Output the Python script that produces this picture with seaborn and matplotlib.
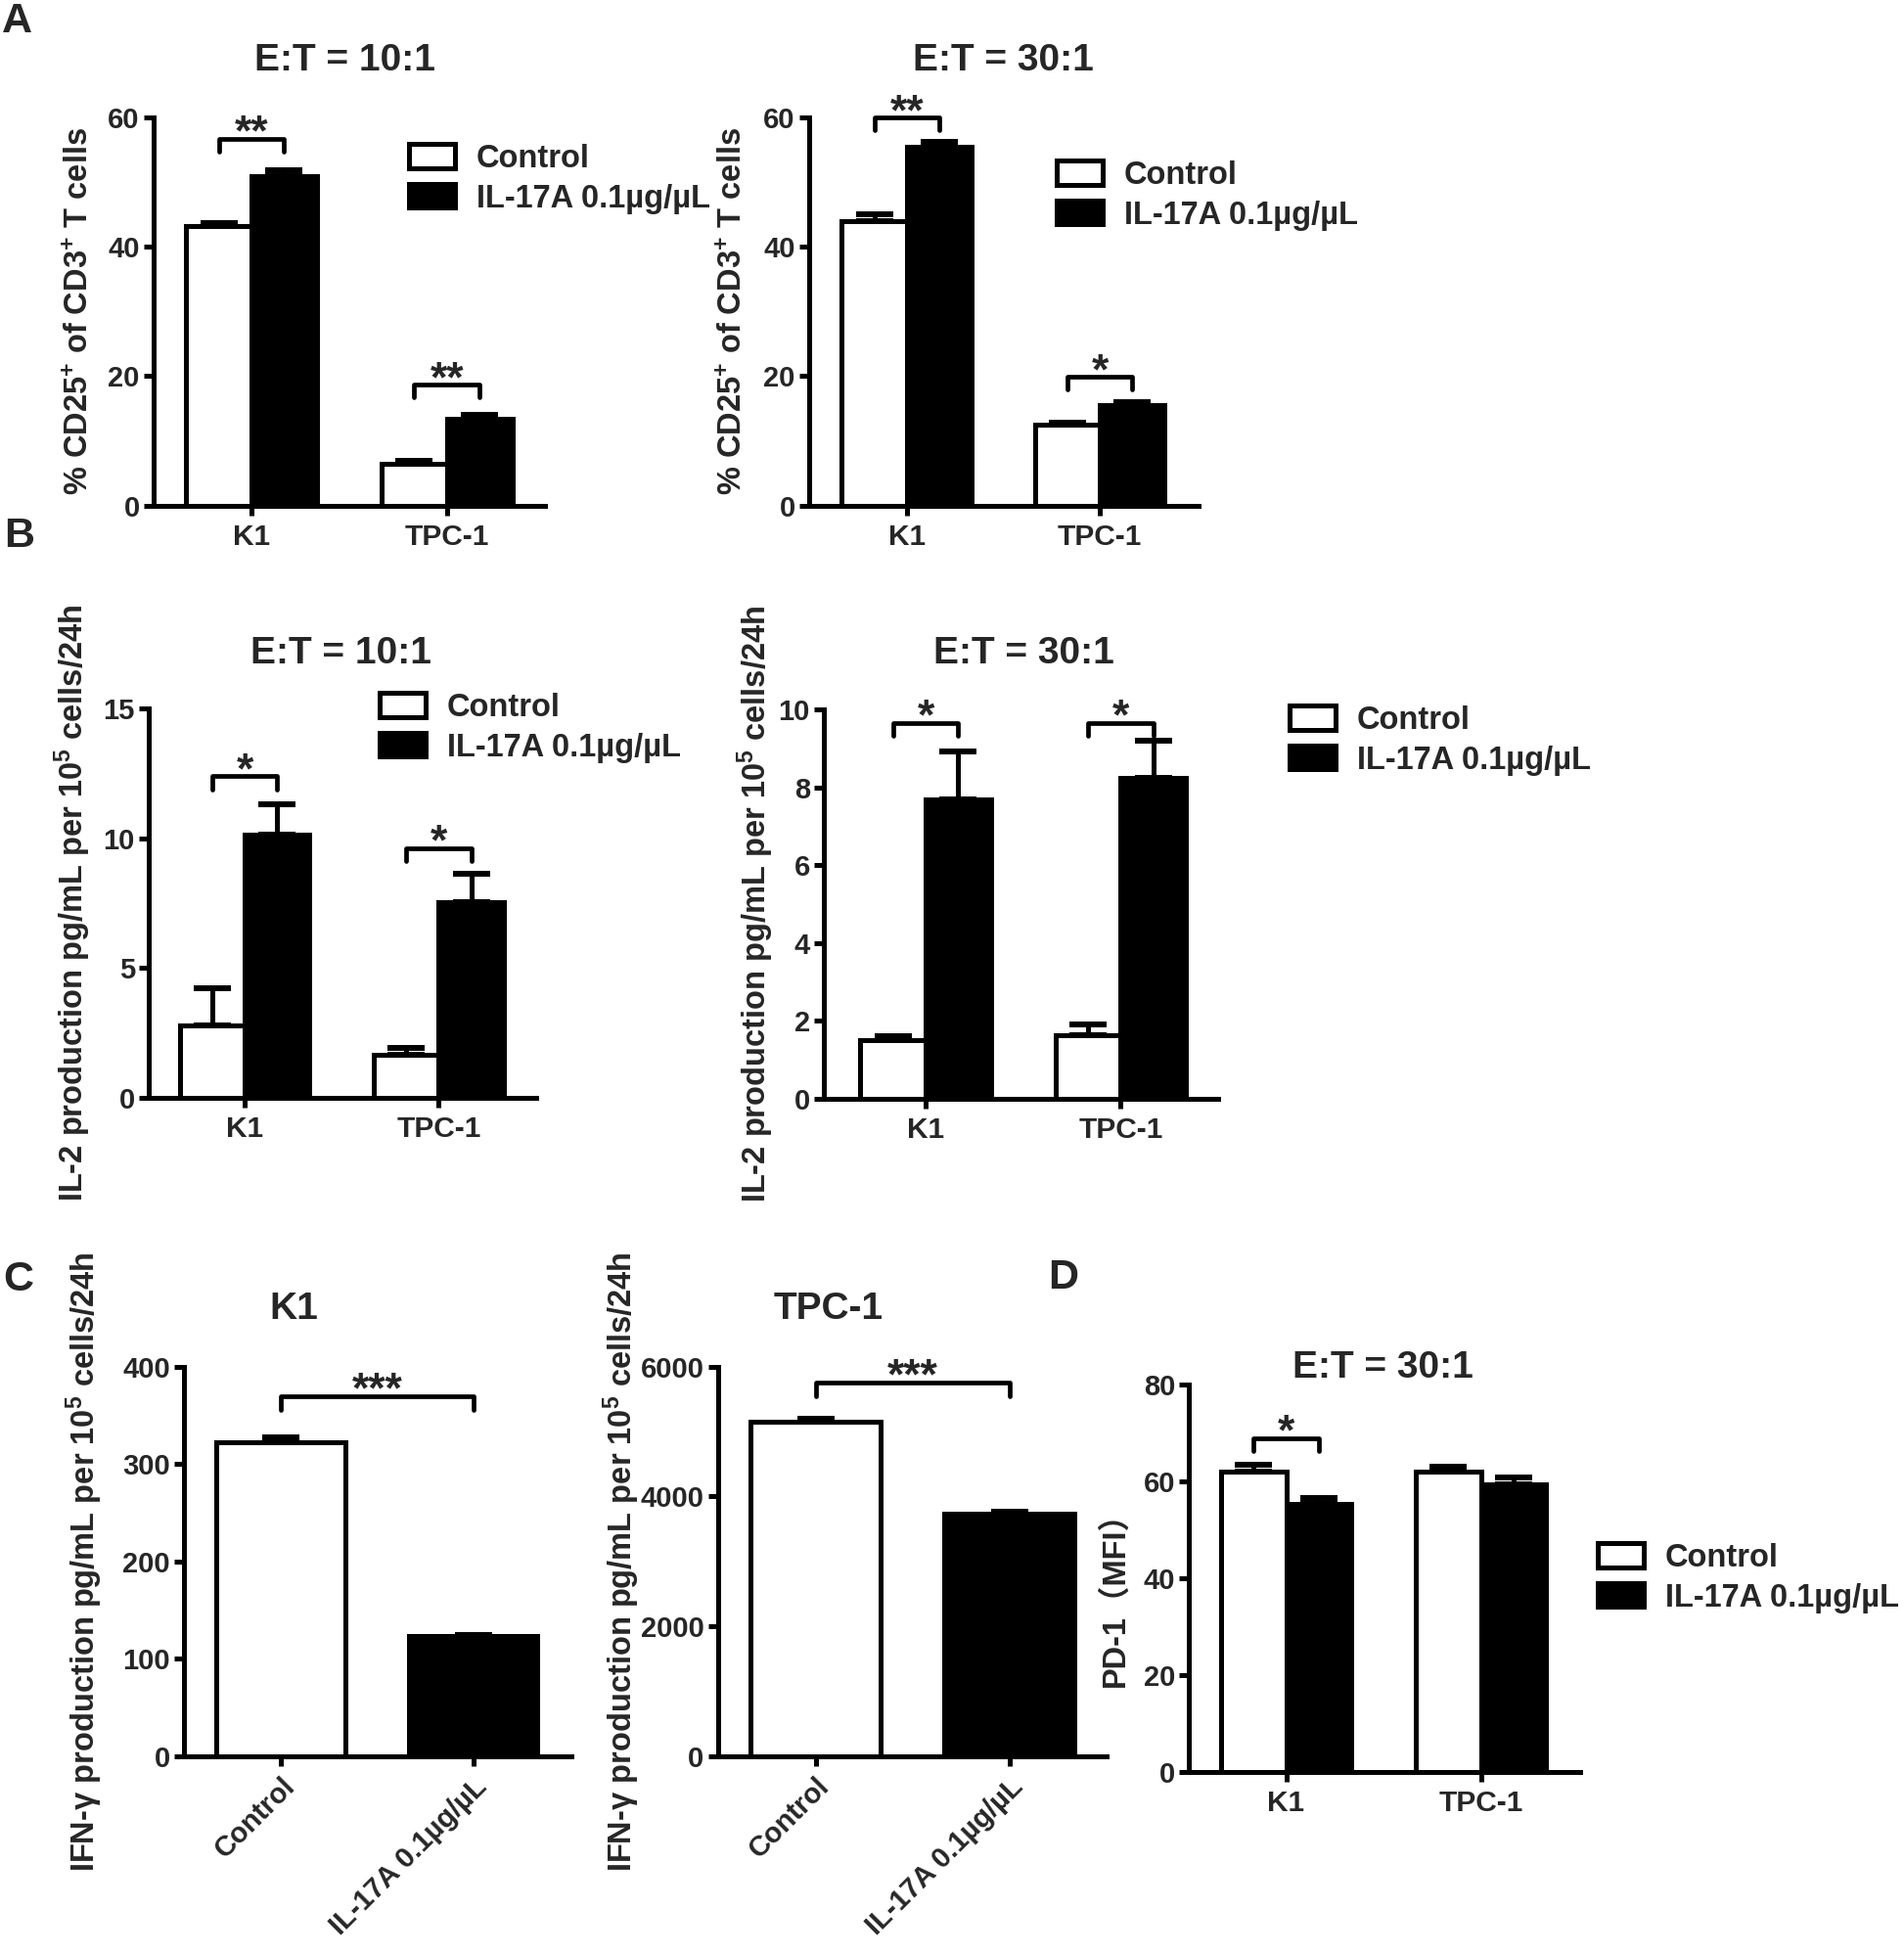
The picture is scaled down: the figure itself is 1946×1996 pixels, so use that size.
import numpy as np
import pandas as pd
import matplotlib
matplotlib.use("Agg")
import matplotlib.pyplot as plt
import matplotlib.font_manager as fm
from matplotlib.patches import Patch
import seaborn as sns

# ---------------- data ----------------
cell_lines = ["K1", "TPC-1"]
treatments = ["Control", "IL-17A 0.1µg/µL"]

a10_control = [43.2, 6.45]
a10_control_sem = [0.5, 0.45]
a10_il17a = [51.0, 13.45]
a10_il17a_sem = [0.9, 0.55]

a30_control = [44.0, 12.45]
a30_control_sem = [1.05, 0.3]
a30_il17a = [55.4, 15.5]
a30_il17a_sem = [0.85, 0.5]

b10_control = [2.77, 1.63]
b10_control_sem = [1.44, 0.29]
b10_il17a = [10.12, 7.54]
b10_il17a_sem = [1.2, 1.07]

b30_control = [1.49, 1.63]
b30_control_sem = [0.10, 0.28]
b30_il17a = [7.68, 8.24]
b30_il17a_sem = [1.23, 0.95]

c_k1_values = [322, 123.8]
c_k1_sem = [5.4, 1.0]
c_tpc1_values = [5146, 3741]
c_tpc1_sem = [45, 30]

d_control = [62.0, 62.1]
d_control_sem = [1.5, 1.0]
d_il17a = [55.4, 59.3]
d_il17a_sem = [1.2, 1.5]

# significance: (stars, bracket height) per cell line
sig_a10 = [("**", 56.7), ("**", 18.65)]
sig_a30 = [("**", 60.0), ("*", 19.9)]
sig_b10 = [("*", 12.38), ("*", 9.62)]
sig_b30 = [("*", 9.66), ("*", 9.66)]
sig_c_k1 = ("***", 370)
sig_c_tpc1 = ("***", 5758)
sig_d = [("*", 68.9), None]

# ---------------- style ----------------
sns.set_style("ticks")
names = {f.name for f in fm.fontManager.ttflist}
MAIN = "Liberation Sans" if "Liberation Sans" in names else "DejaVu Sans"
NARROW = "Liberation Sans Narrow" if "Liberation Sans Narrow" in names else MAIN
plt.rcParams["font.family"] = [MAIN, "DejaVu Sans"]
plt.rcParams["font.weight"] = "bold"
plt.rcParams["mathtext.fontset"] = "custom"
plt.rcParams["mathtext.rm"] = MAIN + ":bold"
plt.rcParams["mathtext.it"] = MAIN + ":bold"
plt.rcParams["mathtext.bf"] = MAIN + ":bold"
plt.rcParams["mathtext.sf"] = MAIN + ":bold"
plt.rcParams["mathtext.default"] = "rm"

LW = 3.6
YTICK_FS = 21
XTICK_FS = 21.5
ROT_FS = 21
YLABEL_FS = 23.5
LEGEND_FS = 23.5
TITLE_FS = 28
STAR_FS = 32
palette = {treatments[0]: "white", treatments[1]: "black"}

W, H = 1946, 1996
fig = plt.figure(figsize=(W / 100, H / 100), dpi=100)
fig.patch.set_facecolor("white")


def make_axes(x0, x1, ytop, ybot):
    ax = fig.add_axes([x0 / W, 1 - ybot / H, (x1 - x0) / W, (ybot - ytop) / H])
    ax.set_facecolor("white")
    return ax


def style_axes(ax, ymax, ystep, xlim, x0, x1, ylabel, ylab_x, ylab_y, ytop, ybot, ylabel_family=None):
    ax.set_ylim(0, ymax)
    ax.set_yticks(np.arange(0, ymax + 1e-9, ystep))
    ax.set_xlim(*xlim)
    sns.despine(ax=ax)
    for s in ["left", "bottom"]:
        ax.spines[s].set_linewidth(LW)
        ax.spines[s].set_color("black")
    ax.tick_params(axis="both", length=7, width=LW, color="black", direction="out")
    ax.tick_params(axis="y", pad=3)
    ax.tick_params(axis="x", pad=6)
    for t in ax.get_yticklabels():
        t.set_fontfamily([NARROW, MAIN])
        t.set_fontsize(YTICK_FS)
        t.set_fontweight("bold")
    for t in ax.get_xticklabels():
        t.set_fontsize(XTICK_FS)
        t.set_fontweight("bold")
    ax.set_xlabel("")
    kw = dict(fontsize=YLABEL_FS, fontweight="bold")
    if ylabel_family:
        kw["family"] = ylabel_family
    ax.set_ylabel(ylabel, **kw)
    ax.yaxis.set_label_coords((ylab_x - x0) / (x1 - x0), (ybot - ylab_y) / (ybot - ytop))
    ax.yaxis.label.set_va("center")


def add_errorbars(ax, errs):
    bars = sorted([p for p in ax.patches if p.get_height() > 0], key=lambda p: p.get_x())
    centers = []
    for p, e in zip(bars, errs):
        cx = p.get_x() + p.get_width() / 2
        centers.append(cx)
        ax.errorbar(cx, p.get_height(), yerr=[[0], [e]], fmt="none", ecolor="black",
                    elinewidth=LW, capsize=13.7, capthick=4.3, zorder=3)
    return centers


def bracket(ax, xa, xb, y, leg, stars):
    ax.plot([xa, xa, xb, xb], [y - leg, y, y, y - leg], color="black", lw=3.4,
            solid_capstyle="round", solid_joinstyle="round", clip_on=False, zorder=4)
    ax.annotate(stars, xy=((xa + xb) / 2, y), xytext=(0, -5), textcoords="offset points",
                ha="center", va="baseline", fontsize=STAR_FS, fontweight="bold",
                annotation_clip=False)


def add_legend(ax, hx, hy):
    handles = [Patch(facecolor=palette[t], edgecolor="black", linewidth=LW) for t in treatments]
    fpx = LEGEND_FS * 100 / 72
    ax.legend(handles, treatments, loc="upper left",
              bbox_to_anchor=(hx / W, 1 - (hy - 0.62 * fpx) / H), bbox_transform=fig.transFigure,
              frameon=False, borderpad=0, borderaxespad=0, handlelength=1.45, handleheight=0.78,
              handletextpad=0.65, labelspacing=0.3,
              prop=fm.FontProperties(family=MAIN, weight="bold", size=LEGEND_FS))


def title(tx, ty, text):
    fig.text(tx / W, 1 - ty / H, text, ha="center", va="center", fontsize=TITLE_FS, fontweight="bold")


def grouped_panel(L, ctrl, il, ctrl_err, il_err, ymax, ystep, sig, ylabel, ttl):
    ax = make_axes(L["x0"], L["x1"], L["ytop"], L["ybot"])
    df = pd.DataFrame({
        "Cell line": cell_lines * 2,
        "Treatment": [treatments[0]] * 2 + [treatments[1]] * 2,
        "Value": list(ctrl) + list(il),
    })
    sns.barplot(data=df, x="Cell line", y="Value", hue="Treatment", order=cell_lines,
                hue_order=treatments, palette=palette, width=0.67, edgecolor="black",
                linewidth=LW, errorbar=None, saturation=1, legend=False, ax=ax)
    centers = add_errorbars(ax, [ctrl_err[0], il_err[0], ctrl_err[1], il_err[1]])
    for i, s in enumerate(sig):
        if s is None:
            continue
        bracket(ax, centers[2 * i], centers[2 * i + 1], s[1], 0.033 * ymax, s[0])
    style_axes(ax, ymax, ystep, L["xlim"], L["x0"], L["x1"], ylabel, L["ylab_x"],
               L.get("ylab_y", (L["ytop"] + L["ybot"]) / 2), L["ytop"], L["ybot"],
               L.get("ylabel_family"))
    if "legend" in L:
        add_legend(ax, *L["legend"])
    title(*L["title"], ttl)
    return ax


def single_panel(L, values, errs, ymax, ystep, sig, ylabel, ttl):
    ax = make_axes(L["x0"], L["x1"], L["ytop"], L["ybot"])
    df = pd.DataFrame({"Treatment": treatments, "Value": values})
    sns.barplot(data=df, x="Treatment", y="Value", hue="Treatment", order=treatments,
                hue_order=treatments, palette=palette, width=0.67, edgecolor="black",
                linewidth=LW, errorbar=None, saturation=1, dodge=False, legend=False, ax=ax)
    centers = add_errorbars(ax, errs)
    bracket(ax, centers[0], centers[1], sig[1], 0.036 * ymax, sig[0])
    style_axes(ax, ymax, ystep, L["xlim"], L["x0"], L["x1"], ylabel, L["ylab_x"],
               (L["ytop"] + L["ybot"]) / 2, L["ytop"], L["ybot"])
    for t in ax.get_xticklabels():
        t.set_rotation(45)
        t.set_ha("right")
        t.set_va("top")
        t.set_rotation_mode("anchor")
        t.set_fontsize(ROT_FS)
    ax.tick_params(axis="x", pad=5)
    title(*L["title"], ttl)
    return ax


# ---------------- layout (pixel positions) ----------------
LA10 = dict(x0=156.7, x1=556.7, ytop=120, ybot=516.7, xlim=(-0.502, 1.50),
            title=(352, 62), ylab_x=82, legend=(418, 167))
LA30 = dict(x0=826.7, x1=1225, ytop=120, ybot=516.7, xlim=(-0.506, 1.51),
            title=(1025, 62), ylab_x=750, legend=(1080, 184))
LB10 = dict(x0=151.7, x1=548.3, ytop=724, ybot=1121.7, xlim=(-0.496, 1.504),
            title=(348, 668), ylab_x=74, legend=(388, 728))
LB30 = dict(x0=841.7, x1=1245, ytop=725, ybot=1122.7, xlim=(-0.524, 1.50),
            title=(1046, 668), ylab_x=772, legend=(1318, 741))
LCK1 = dict(x0=188, x1=583.7, ytop=1396.7, ybot=1795, xlim=(-0.505, 1.51),
            title=(300, 1338), ylab_x=86)
LCTP = dict(x0=733.5, x1=1130.6, ytop=1396.7, ybot=1795, xlim=(-0.506, 1.50),
            title=(847, 1338), ylab_x=635)
LD = dict(x0=1215, x1=1615, ytop=1415, ybot=1810.7, xlim=(-0.50, 1.51),
          title=(1413, 1398), ylab_x=1140, ylab_y=1626, legend=(1633, 1597),
          ylabel_family=[MAIN, "Noto Sans CJK SC", "DejaVu Sans"])

cd25_label = "% CD25$^{+}$ of CD3$^{+}$ T cells"
il2_label = "IL-2 production pg/mL per 10$^{5}$ cells/24h"
ifn_label = "IFN-γ production pg/mL per 10$^{5}$ cells/24h"
pd1_label = "PD-1（MFI）"

grouped_panel(LA10, a10_control, a10_il17a, a10_control_sem, a10_il17a_sem, 60, 20, sig_a10,
              cd25_label, "E:T = 10:1")
grouped_panel(LA30, a30_control, a30_il17a, a30_control_sem, a30_il17a_sem, 60, 20, sig_a30,
              cd25_label, "E:T = 30:1")
grouped_panel(LB10, b10_control, b10_il17a, b10_control_sem, b10_il17a_sem, 15, 5, sig_b10,
              il2_label, "E:T = 10:1")
grouped_panel(LB30, b30_control, b30_il17a, b30_control_sem, b30_il17a_sem, 10, 2, sig_b30,
              il2_label, "E:T = 30:1")
single_panel(LCK1, c_k1_values, c_k1_sem, 400, 100, sig_c_k1, ifn_label, "K1")
single_panel(LCTP, c_tpc1_values, c_tpc1_sem, 6000, 2000, sig_c_tpc1, ifn_label, "TPC-1")
grouped_panel(LD, d_control, d_il17a, d_control_sem, d_il17a_sem, 80, 20, sig_d,
              pd1_label, "E:T = 30:1")

for letter, (lx, ly) in {"A": (2, 22), "B": (4, 548), "C": (3, 1308), "D": (1071, 1306)}.items():
    fig.text(lx / W, 1 - ly / H, letter, ha="left", va="center", fontsize=31, fontweight="bold")

fig.savefig("out.png", dpi=100, facecolor="white")
